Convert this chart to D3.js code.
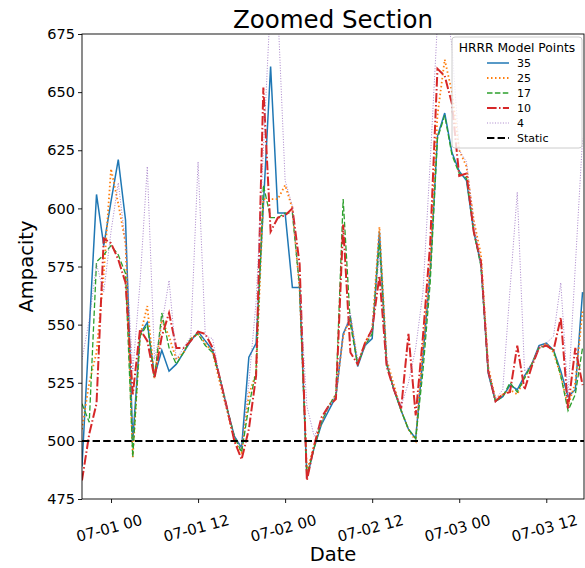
<!DOCTYPE html>
<html>
<head>
<meta charset="utf-8">
<title>Zoomed Section</title>
<style>
body {
  margin: 0;
  background: #fff;
}
svg text {
  font-family: "DejaVu Sans", sans-serif;
  fill: #000;
}
.axis path,
.axis line {
  stroke: #000;
  stroke-width: 0.9px;
}
.axis text {
  font-size: 14.5px;
}
.axis--x text {
  font-size: 15px;
}
</style>
</head>
<body>
<div id="chart"></div>
<script src="https://d3js.org/d3.v7.min.js"></script>
<script>

// hourly values, 06-30 20:00 to 07-03 17:00
let seriesNames = ["35", "25", "17", "10", "4"];

let pts35 = [489, 548, 606, 584, 603, 621, 595, 500, 546, 551,
  528, 539, 530, 533, 538, 543, 547, 543, 539, 527,
  514, 502, 497, 536, 542, 601, 661, 598, 598, 566,
  566, 484, 497, 507, 513, 519, 546, 553, 532, 541,
  544, 590, 533, 522, 513, 505, 501, 536, 573, 631,
  641, 624, 616, 612, 590, 576, 529, 517, 519, 524,
  522, 528, 533, 541, 542, 539, 530, 519, 522, 564];

let pts25 = [505, 525, 538, 572, 617, 602, 585, 493, 545, 558,
  527, 552, 545, 535, 538, 544, 546, 542, 538, 525,
  513, 500, 495, 520, 529, 604, 604, 604, 610, 600,
  565, 487, 498, 508, 515, 520, 545, 553, 533, 542,
  548, 592, 535, 524, 513, 505, 500, 540, 575, 640,
  664, 650, 625, 618, 595, 580, 532, 518, 520, 522,
  520, 527, 533, 540, 542, 538, 528, 515, 525, 556];

let pts17 = [516, 508, 577, 580, 584, 580, 572, 493, 545, 550,
  527, 555, 540, 533, 538, 544, 546, 541, 538, 527,
  514, 502, 495, 515, 530, 610, 596, 596, 598, 598,
  566, 485, 497, 508, 515, 520, 604, 550, 533, 541,
  546, 585, 533, 522, 513, 505, 501, 530, 568, 630,
  640, 623, 615, 613, 590, 575, 530, 517, 519, 525,
  521, 527, 533, 540, 541, 539, 528, 513, 520, 540];

let pts10 = [483, 503, 516, 587, 585, 578, 568, 520, 548, 543,
  527, 545, 555, 540, 540, 543, 547, 546, 540, 527,
  514, 500, 492, 505, 528, 652, 590, 596, 597, 600,
  576, 483, 498, 510, 515, 518, 593, 538, 533, 542,
  548, 571, 532, 522, 514, 546, 511, 545, 585, 660,
  657, 645, 614, 615, 590, 577, 530, 517, 520, 521,
  541, 522, 532, 540, 541, 539, 553, 514, 540, 524];

let pts4 = [535, 552, 576, 564, 590, 611, 585, 530, 568, 618,
  535, 550, 569, 535, 540, 545, 620, 545, 544, 527,
  514, 502, 497, 525, 560, 625, 690, 685, 612, 601,
  566, 515, 502, 508, 515, 520, 545, 555, 535, 540,
  548, 580, 535, 522, 515, 525, 540, 564, 620, 680,
  690, 670, 625, 620, 595, 575, 530, 518, 522, 565,
  607, 530, 533, 540, 542, 545, 568, 519, 575, 630];

let staticValue = 500;
let yTicks = [475, 500, 525, 550, 575, 600, 625, 650, 675];

let startTime = new Date(2023, 5, 30, 20),
    endTime = new Date(2023, 6, 3, 18);
let times = d3.timeHour.range(startTime, endTime);

let allPts = [pts35, pts25, pts17, pts10, pts4];

// --- styles per series (matplotlib tab10 look)
let colors = ["#1f77b4", "#ff7f0e", "#2ca02c", "#d62728", "#9467bd"];
let dashes = ["none", "1.5,2.5", "5.5,2.4", "9.6,2.4,1.5,2.4", "1,1.65"];
let widths = [1.5, 1.8, 1.3, 2, 1];
let opac = [1, 1, 1, 1, 0.8];

let margin = {top: 34, right: 1, bottom: 69, left: 82},
    width = 585 - margin.left - margin.right,
    height = 568 - margin.top - margin.bottom;

let svg = d3.select("#chart").append("svg")
    .attr("width", 585)
    .attr("height", 568);

let g = svg.append("g")
    .attr("transform", "translate(" + margin.left + "," + margin.top + ")");

let x = d3.scaleTime()
    .domain([startTime, d3.timeMinute.offset(startTime, 69.2 * 60)])
    .range([0, width]);
let y = d3.scaleLinear().domain([475, 675]).range([height, 0]);

g.append("clipPath").attr("id", "clip")
  .append("rect").attr("width", width).attr("height", height);

let plot = g.append("g").attr("clip-path", "url(#clip)");

let line = d3.line()
    .x(function(d, i) { return x(times[i]); })
    .y(function(d) { return y(d); });

allPts.forEach(function(pts, k) {
  plot.append("path")
    .datum(pts)
    .attr("fill", "none")
    .attr("stroke", colors[k])
    .attr("stroke-width", widths[k])
    .attr("stroke-dasharray", dashes[k])
    .attr("stroke-opacity", opac[k])
    .attr("d", line);
});

// static rating
plot.append("line")
  .attr("x1", 0).attr("x2", width)
  .attr("y1", y(staticValue)).attr("y2", y(staticValue))
  .attr("stroke", "#000")
  .attr("stroke-width", 2)
  .attr("stroke-dasharray", "7.4,3.2");

// axes
let xAxis = g.append("g")
    .attr("class", "axis axis--x")
    .attr("transform", "translate(0," + height + ")")
    .call(d3.axisBottom(x)
      .ticks(d3.timeHour.every(12))
      .tickFormat(d3.timeFormat("%m-%d %H"))
      .tickSize(4).tickSizeOuter(0));
xAxis.select(".domain").remove();
xAxis.selectAll("text")
    .attr("text-anchor", "middle")
    .attr("dy", null)
    .attr("y", 0)
    .attr("transform", "translate(-2,30) rotate(-15)")
    .attr("dominant-baseline", "middle");

let yAxis = g.append("g")
    .attr("class", "axis")
    .call(d3.axisLeft(y).tickValues(yTicks).tickSize(4).tickSizeOuter(0));
yAxis.select(".domain").remove();
yAxis.selectAll("text").attr("x", -7);

// frame
g.append("rect")
  .attr("width", width).attr("height", height)
  .attr("fill", "none")
  .attr("stroke", "#000")
  .attr("stroke-width", 0.9);

// titles
svg.append("text")
  .attr("x", margin.left + width / 2).attr("y", 28)
  .attr("text-anchor", "middle")
  .style("font-size", "24.5px")
  .text("Zoomed Section");

svg.append("text")
  .attr("x", margin.left + width / 2).attr("y", 561)
  .attr("text-anchor", "middle")
  .style("font-size", "19.5px")
  .text("Date");

svg.append("text")
  .attr("transform", "translate(33," + (margin.top + height / 2) + ") rotate(-90)")
  .attr("text-anchor", "middle")
  .style("font-size", "19.5px")
  .text("Ampacity");

// legend
let legend = svg.append("g").attr("transform", "translate(452,37)");
legend.append("rect")
  .attr("width", 130).attr("height", 111)
  .attr("rx", 3)
  .attr("fill", "#fff").attr("fill-opacity", 0.8)
  .attr("stroke", "#ccc");
legend.append("text")
  .attr("x", 65).attr("y", 14.5)
  .attr("text-anchor", "middle")
  .style("font-size", "12.3px")
  .text("HRRR Model Points");

let legNames = seriesNames.concat(["Static"]);
legNames.forEach(function(name, k) {
  let ly = 26 + k * 15;
  legend.append("line")
    .attr("x1", 35).attr("x2", 57)
    .attr("y1", ly).attr("y2", ly)
    .attr("stroke", k < 5 ? colors[k] : "#000")
    .attr("stroke-width", k < 5 ? widths[k] : 2)
    .attr("stroke-opacity", k < 5 ? opac[k] : 1)
    .attr("stroke-dasharray", k < 5 ? dashes[k] : "7.4,3.2");
  legend.append("text")
    .attr("x", 65).attr("y", ly + 4)
    .style("font-size", "11px")
    .text(name);
});

</script>
</body>
</html>
